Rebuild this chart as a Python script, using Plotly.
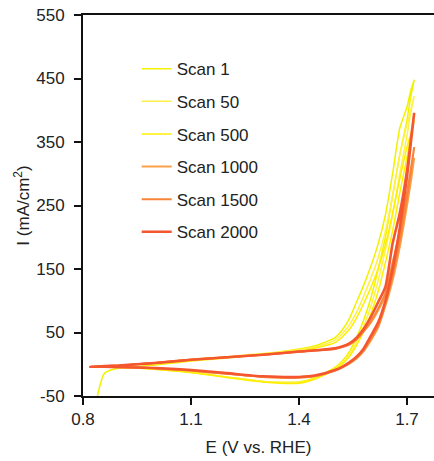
import plotly.graph_objects as go

# ---------------- data ----------------
SCAN_NAMES = ["Scan 1", "Scan 50", "Scan 500", "Scan 1000", "Scan 1500", "Scan 2000"]
SCAN_COLORS = ["#F2F200", "#FFF04A", "#FFEE00", "#FBA14B", "#F98437", "#F4562F"]
SCAN_WIDTHS = [1.5, 1.5, 1.5, 2.0, 2.0, 2.6]

# potential grid, forward sweep (V vs. RHE)
E_FWD = [0.82, 0.84, 0.86, 0.90, 0.95, 1.00, 1.10, 1.20, 1.30, 1.40, 1.45, 1.50, 1.52, 1.54,
         1.56, 1.58, 1.60, 1.62, 1.64, 1.66, 1.68, 1.70, 1.71, 1.72]
# potential grid, reverse sweep
E_REV = [1.72, 1.71, 1.70, 1.68, 1.66, 1.64, 1.62, 1.60, 1.58, 1.56, 1.54, 1.52, 1.50, 1.45,
         1.40, 1.30, 1.20, 1.10, 1.00, 0.95, 0.90, 0.86, 0.84, 0.82]

# currents (mA/cm2)
I_FWD_1 = [None, -50, -14, -6, -4, -1, 5, 10, 16, 24, 30, 42, 54, 72,
           98, 125, 155, 190, 235, 300, 372, 405, 430, 448]
I_REV_1 = [448, 420, 385, 330, 265, 200, 150, 105, 70, 42, 20, 5, -5, -20,
           -28, -27, -20, -13, -8, -6, -5, -4.5, -4, -4]

I_FWD_50 = [-4, -3.5, -3, -2, 0, 2, 8, 12, 17, 23, 28, 38, 48, 62,
            82, 108, 136, 168, 210, 265, 330, 378, 400, 422]
I_REV_50 = [422, 395, 360, 300, 235, 180, 132, 92, 60, 35, 15, 2, -7, -21,
            -29, -27, -20, -12, -7, -5.5, -5, -4.5, -4, -4]

I_FWD_500 = [-4, -3.5, -3, -2, -0.5, 1, 6, 11, 16, 21, 26, 34, 43, 55,
             73, 96, 121, 151, 188, 238, 292, 342, 362, 384]
I_REV_500 = [384, 356, 326, 270, 210, 160, 115, 80, 52, 30, 12, 0, -8, -22,
             -30, -28, -21, -13, -8, -6, -5, -4.5, -4, -4]

I_FWD_1000 = [-4, -3.5, -3, -2, 0, 2, 7, 11, 15, 20, 22, 25, 28, 32,
              40, 52, 66, 85, 108, 150, 200, 255, 290, 325]
I_REV_1000 = [325, 285, 250, 185, 132, 92, 58, 38, 21, 9, 1, -5, -10, -18,
              -21, -20, -15, -10, -6.5, -5, -4.5, -4, -4, -4]

I_FWD_1500 = [-4, -3.5, -3, -2, 0, 2, 7, 11, 15, 19.5, 22, 24, 27, 31,
              39, 52, 68, 88, 112, 160, 210, 270, 305, 342]
I_REV_1500 = [342, 300, 262, 195, 140, 95, 60, 40, 22, 10, 2, -5, -10, -18,
              -21, -20, -15, -10, -6.5, -5, -4.5, -4, -4, -4]

I_FWD_2000 = [-4, -3.5, -3, -2, 0, 2, 7, 11, 15, 20, 22, 25, 28, 33,
              42, 56, 75, 98, 122, 190, 238, 305, 350, 396]
I_REV_2000 = [396, 345, 295, 215, 150, 100, 66, 45, 25, 12, 3, -4, -9, -17,
              -20, -19, -14, -9, -6, -5, -4.5, -4, -4, -4]

I_FWD = [I_FWD_1, I_FWD_50, I_FWD_500, I_FWD_1000, I_FWD_1500, I_FWD_2000]
I_REV = [I_REV_1, I_REV_50, I_REV_500, I_REV_1000, I_REV_1500, I_REV_2000]

X_TICKS = [0.8, 1.1, 1.4, 1.7]
Y_TICKS = [-50, 50, 150, 250, 350, 450, 550]

# ---------------- figure ----------------
FONT = "Liberation Sans, Arial, sans-serif"
fig = go.Figure()
for k, name in enumerate(SCAN_NAMES):
    xs = E_FWD + E_REV
    ys = I_FWD[k] + I_REV[k]
    fig.add_trace(go.Scatter(
        x=xs, y=ys, mode="lines", name=name, legendgroup=name,
        line=dict(color=SCAN_COLORS[k], width=SCAN_WIDTHS[k], shape="spline", smoothing=0.6),
        connectgaps=True,
    ))

fig.update_layout(
    width=434, height=461,
    margin=dict(l=83, r=0, t=15, b=65),
    plot_bgcolor="white", paper_bgcolor="white",
    font=dict(family=FONT, size=17, color="#222222"),
    showlegend=True,
    legend=dict(
        x=0.153, y=0.905, xanchor="left", yanchor="top",
        bgcolor="rgba(0,0,0,0)", font=dict(size=17, color="#222222"),
        tracegroupgap=7.5, itemwidth=30,
    ),
    xaxis=dict(
        range=[0.8, 0.8 + 351 / 360], tickvals=X_TICKS, ticktext=[f"{v:.1f}" for v in X_TICKS],
        showgrid=False, zeroline=False, showline=True, linecolor="#111111", linewidth=2,
        mirror=True, ticks="outside", ticklen=7, tickwidth=1.5, tickcolor="#111111",
        tickfont=dict(size=17),
        title=dict(text="E (V vs. RHE)", font=dict(size=17), standoff=13),
    ),
    yaxis=dict(
        range=[-50, 550], tickvals=Y_TICKS, ticktext=[str(v) for v in Y_TICKS],
        showgrid=False, zeroline=False,
        showline=True, linecolor="#111111", linewidth=2,
        ticks="outside", ticklen=7, tickwidth=1.5, tickcolor="#111111",
        tickfont=dict(size=17), ticklabelstandoff=6,
        title=dict(text="I (mA/cm<sup>2</sup>)", font=dict(size=17), standoff=2),
    ),
)

fig.write_html("out.html")
